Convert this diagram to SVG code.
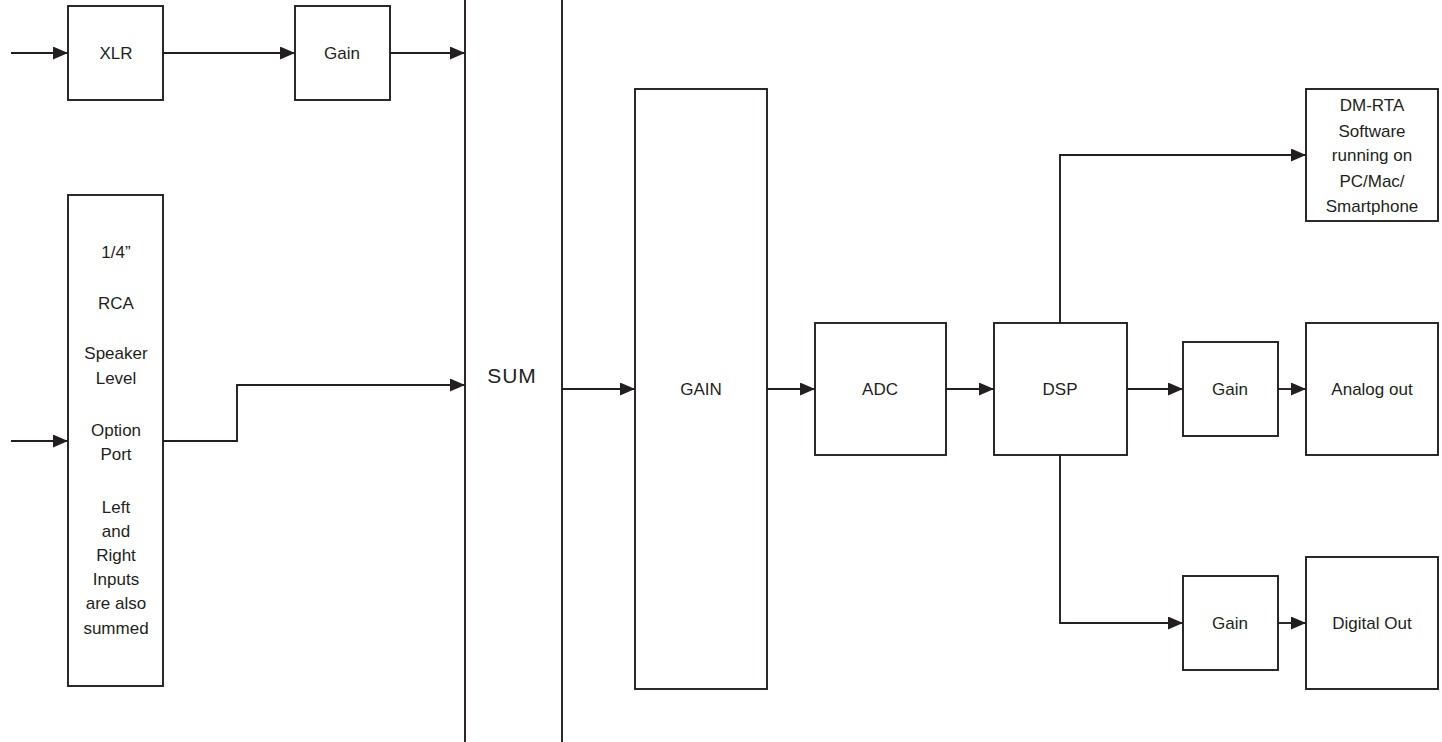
<svg xmlns="http://www.w3.org/2000/svg" width="1442" height="742" viewBox="0 0 1442 742">
<defs>
<style>
.box{fill:#fff;stroke:#231f20;stroke-width:1.9}
.ln{fill:none;stroke:#231f20;stroke-width:1.9;marker-end:url(#ah)}
text{font-family:"Liberation Sans",Arial,sans-serif;font-size:17px;fill:#231f20;text-anchor:middle}
</style>
<marker id="ah" markerUnits="userSpaceOnUse" markerWidth="15" markerHeight="13" refX="15" refY="6.5" orient="auto">
<path d="M0,0 L15,6.5 L0,13 z" fill="#231f20"/>
</marker>
</defs>
<rect width="1442" height="742" fill="#fff"/>
<g id="connectors">
<path class="ln" d="M11,53 H68"/>
<path class="ln" d="M163,53 H295"/>
<path class="ln" d="M390,53 H465"/>
<path class="ln" d="M11,441 H68"/>
<path class="ln" d="M163,441 H237 V385 H465"/>
<path class="ln" d="M562,389 H635"/>
<path class="ln" d="M767,389 H815"/>
<path class="ln" d="M946,389 H994"/>
<path class="ln" d="M1060,323 V155 H1306"/>
<path class="ln" d="M1127,389 H1183"/>
<path class="ln" d="M1278,389 H1306"/>
<path class="ln" d="M1060,455 V623 H1183"/>
<path class="ln" d="M1278,623 H1306"/>
</g>
<g id="xlr"><rect class="box" x="68" y="6" width="95" height="94"/><text x="116" y="59">XLR</text></g>
<g id="gain1"><rect class="box" x="295" y="6" width="95" height="94"/><text x="342" y="59">Gain</text></g>
<g id="inputs"><rect class="box" x="68" y="195" width="95" height="491"/>
<text x="116" y="258">1/4”</text>
<text x="116" y="309">RCA</text>
<text x="116" y="359">Speaker</text>
<text x="116" y="384">Level</text>
<text x="116" y="436">Option</text>
<text x="116" y="460">Port</text>
<text x="116" y="513">Left</text>
<text x="116" y="537">and</text>
<text x="116" y="561">Right</text>
<text x="116" y="585">Inputs</text>
<text x="116" y="609">are also</text>
<text x="116" y="634">summed</text>
</g>
<g id="sum"><rect class="box" x="465" y="-10" width="97" height="762"/><text x="512" y="383" style="font-size:21px;letter-spacing:1px">SUM</text></g>
<g id="gainbig"><rect class="box" x="635" y="89" width="132" height="600"/><text x="701" y="395">GAIN</text></g>
<g id="adc"><rect class="box" x="815" y="323" width="131" height="132"/><text x="880" y="395">ADC</text></g>
<g id="dsp"><rect class="box" x="994" y="323" width="133" height="132"/><text x="1060" y="395">DSP</text></g>
<g id="dmrta"><rect class="box" x="1306" y="89" width="132" height="132"/>
<text x="1372" y="111">DM-RTA</text>
<text x="1372" y="137">Software</text>
<text x="1372" y="161">running on</text>
<text x="1372" y="187">PC/Mac/</text>
<text x="1372" y="212">Smartphone</text>
</g>
<g id="gain2"><rect class="box" x="1183" y="342" width="95" height="94"/><text x="1230" y="395">Gain</text></g>
<g id="analog"><rect class="box" x="1306" y="323" width="132" height="132"/><text x="1372" y="395">Analog out</text></g>
<g id="gain3"><rect class="box" x="1183" y="576" width="95" height="94"/><text x="1230" y="629">Gain</text></g>
<g id="digital"><rect class="box" x="1306" y="557" width="132" height="132"/><text x="1372" y="629">Digital Out</text></g>
</svg>
